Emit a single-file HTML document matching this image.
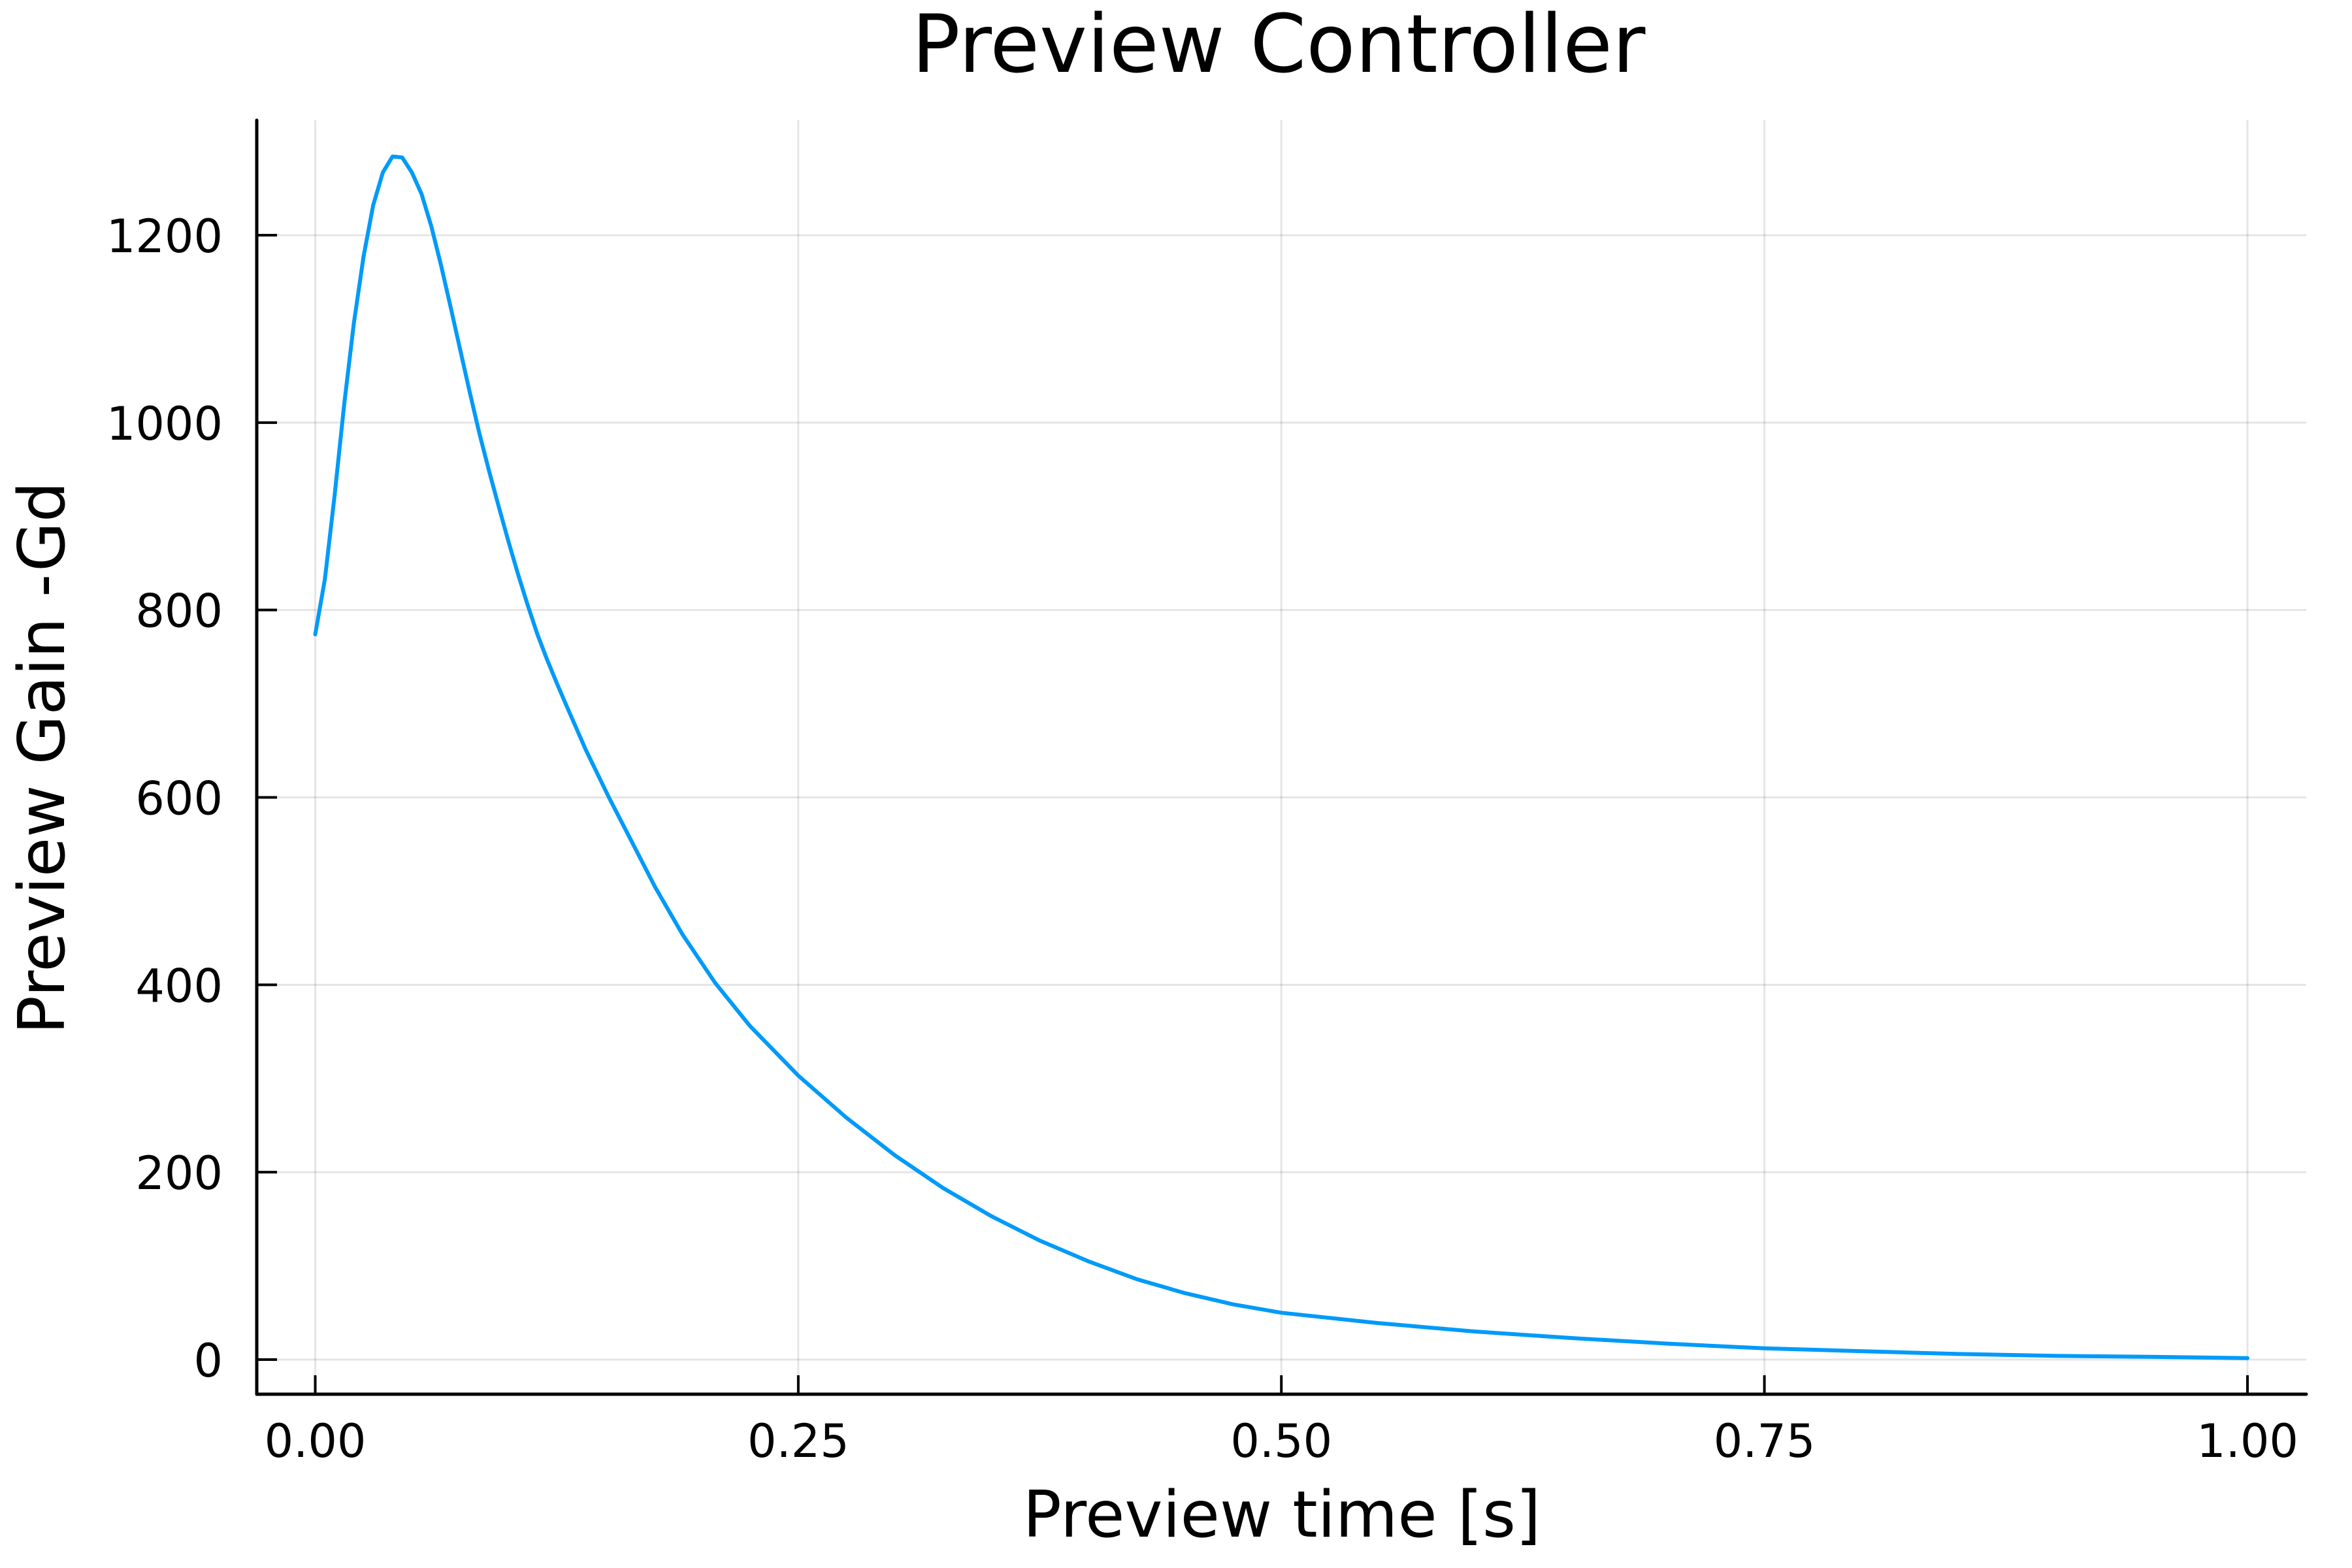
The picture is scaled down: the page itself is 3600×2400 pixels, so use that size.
<!DOCTYPE html>
<html><head><meta charset="utf-8"><style>
html,body{margin:0;padding:0;background:#fff;}
svg{display:block;font-family:"DejaVu Sans","Liberation Sans",sans-serif;}
</style></head><body>
<svg id="chart" width="3600" height="2400" viewBox="0 0 3600 2400" xmlns="http://www.w3.org/2000/svg">
<rect width="3600" height="2400" fill="#fff"/>
<g id="grid"></g>
<g id="axes"></g>
<g id="series"></g>
<text x="1957" y="110" font-size="123" text-anchor="middle">Preview Controller</text>
<text x="1962" y="2352" font-size="98" text-anchor="middle">Preview time [s]</text>
<text x="0" y="0" font-size="98" text-anchor="middle" transform="translate(98,1160) rotate(-90)">Preview Gain -Gd</text>
</svg>
<script>
const times = [0,0.005,0.01,0.015,0.02,0.025,0.03,0.035,0.04,0.045,0.05,0.055,0.06,0.065,0.07,0.075,0.08,0.085,0.09,0.095,0.1,0.105,0.11,0.115,0.12,0.125,0.13,0.14,0.152,0.165,0.176,0.19,0.207,0.225,0.25,0.275,0.3,0.325,0.35,0.375,0.4,0.425,0.45,0.475,0.5,0.55,0.6,0.65,0.7,0.75,0.8,0.85,0.9,0.95,1.0];
const gains = [774,833,922,1020,1106,1177,1232,1267,1284,1283,1267,1244,1210,1169,1124,1078,1032,988,948,910,873,838,805,774,747,722,698,651,600,548,504,454,402,356,303,258,218,183,153,127,105,86,71,59,50,39,30,23,17,12,9,6,4,3,1.5];
const xTicks = [0,0.25,0.5,0.75,1.0];
const xTickLabels = ["0.00","0.25","0.50","0.75","1.00"];
const yTicks = [0,200,400,600,800,1000,1200];
const yTickLabels = ["0","200","400","600","800","1000","1200"];

const NS = "http://www.w3.org/2000/svg";
const X0 = 482.5, X1 = 3440, Y0 = 2081, Y1200 = 360;
const L = 393, R = 3530, T = 184, B = 2134;
function sx(t){ return X0 + (X1 - X0) * t; }
function sy(v){ return Y0 - (Y0 - Y1200) * v / 1200; }
function mk(tag, attrs, parent){
  const e = document.createElementNS(NS, tag);
  for (const k in attrs) e.setAttribute(k, attrs[k]);
  parent.appendChild(e);
  return e;
}
const grid = document.getElementById('grid');
const axes = document.getElementById('axes');
const series = document.getElementById('series');

xTicks.forEach((t, i) => {
  const g = mk('line', {x1: sx(t), x2: sx(t), y1: T, y2: B, stroke: 'rgba(0,0,0,0.1)', 'stroke-width': 3}, grid);
  
  
  const tk = mk('line', {x1: sx(t), x2: sx(t), y1: B, y2: B - 29, stroke: '#000', 'stroke-width': 4}, axes);
  
  
  const lb = mk('text', {x: sx(t), y: 2230, 'font-size': 70, 'text-anchor': 'middle'}, axes);
  lb.textContent = xTickLabels[i];
  
  
});
yTicks.forEach((v, i) => {
  const g = mk('line', {x1: L, x2: R, y1: sy(v), y2: sy(v), stroke: 'rgba(0,0,0,0.1)', 'stroke-width': 3}, grid);
  
  
  const tk = mk('line', {x1: L, x2: L + 31, y1: sy(v), y2: sy(v), stroke: '#000', 'stroke-width': 4}, axes);
  
  
  const lb = mk('text', {x: 341, y: sy(v) + 26, 'font-size': 70, 'text-anchor': 'end'}, axes);
  lb.textContent = yTickLabels[i];
  
  
});
const xa = mk('line', {x1: L, x2: R, y1: B, y2: B, stroke: '#000', 'stroke-width': 5, 'stroke-linecap': 'round'}, axes);


const ya = mk('line', {x1: L, x2: L, y1: T, y2: B, stroke: '#000', 'stroke-width': 5, 'stroke-linecap': 'round'}, axes);



const pts = times.map((t, i) => sx(t).toFixed(1) + ',' + sy(gains[i]).toFixed(1)).join(' ');
const pl = mk('polyline', {points: pts, fill: 'none', stroke: '#009af9', 'stroke-width': 6, 'stroke-linejoin': 'round', 'stroke-linecap': 'round'}, series);


</script>
</body></html>
